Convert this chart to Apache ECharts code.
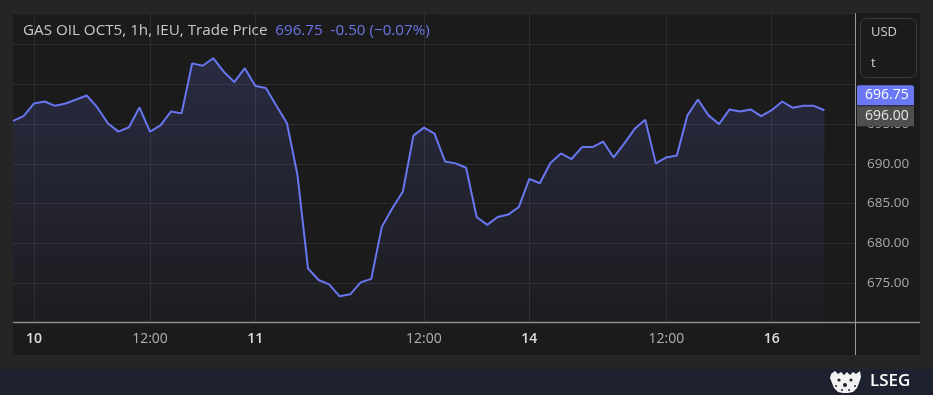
<!DOCTYPE html>
<html>
<head>
<meta charset="utf-8">
<script src="https://cdn.jsdelivr.net/npm/echarts@6/dist/echarts.min.js"></script>
<style>
html,body{margin:0;padding:0;background:#252525;}
#chart{width:933px;height:395px;}
</style>
</head>
<body>
<div id="chart"></div>
<script>
// ---- data ----
const instrument = 'GAS OIL OCT5, 1h, IEU, Trade Price';
const changeAbs = '-0.50';
const changePct = '(\u22120.07%)';
const refValue = 696.00;
const currency = 'USD';
const unit = 't';
const slotCount = 81;               // hourly slots on the axis
const tickIndex = [2, 13, 23, 39, 49, 62, 72];
const tickLabels = ['10', '12:00', '11', '12:00', '14', '12:00', '16'];
const yTicks = [675, 680, 685, 690, 695];
const price = [
  695.4, 696.0, 697.6, 697.85, 697.3, 697.6, 698.1, 698.6, 697.1, 695.1,
  694.05, 694.6, 697.1, 694.05, 694.85, 696.6, 696.35, 702.65, 702.35, 703.3,
  701.6, 700.3, 702.05, 699.8, 699.55, 697.3, 695.1, 688.55, 676.8, 675.35,
  674.8, 673.3, 673.55, 675.05, 675.5, 682.05, 684.4, 686.5, 693.55, 694.55,
  693.8, 690.3, 690.05, 689.5, 683.3, 682.3, 683.3, 683.6, 684.55, 688.1,
  687.55, 690.1, 691.3, 690.6, 692.1, 692.1, 692.8, 690.8, 692.55, 694.4,
  695.55, 690.05, 690.8, 691.05, 696.1, 698.1, 696.1, 695.0, 696.85, 696.6,
  696.85, 696.0, 696.75, 697.85, 697.05, 697.3, 697.3, 696.75
];

// ---- chart ----
const categories = Array.from({length: slotCount}, (_, i) => String(i));
const lastValue = price[price.length - 1];
const isTick = (i) => tickIndex.indexOf(i) >= 0;
const FONT = '"Open Sans", "Noto Sans", sans-serif';
const LINE = '#6876f0';

const chart = echarts.init(document.getElementById('chart'), null, {renderer: 'canvas'});

const option = {
  backgroundColor: '#252525',
  animation: false,
  textStyle: {fontFamily: FONT},
  grid: {left: 13, right: 77, top: 13, bottom: 72.5, containLabel: false},
  xAxis: {
    type: 'category',
    data: categories,
    boundaryGap: false,
    axisLine: {show: false},
    axisTick: {show: false},
    axisLabel: {
      interval: (i) => isTick(i),
      formatter: (v, i) => {
        const k = tickIndex.indexOf(i);
        if (k < 0) return '';
        const t = tickLabels[k];
        return t.indexOf(':') >= 0 ? '{t|' + t + '}' : '{d|' + t + '}';
      },
      margin: 10,
      rich: {
        d: {color: '#dcdcdc', fontSize: 14, fontWeight: 600, fontFamily: FONT},
        t: {color: '#b0b0b0', fontSize: 14, fontFamily: FONT}
      }
    },
    splitLine: {show: true, interval: (i) => isTick(i), lineStyle: {color: '#2d2d2d', width: 1}}
  },
  yAxis: {
    type: 'value',
    position: 'right',
    min: 670,
    max: 709,
    interval: 5,
    axisLine: {show: false},
    axisTick: {show: false},
    axisLabel: {
      margin: 11,
      color: '#a8a8a8',
      fontSize: 13.5,
      fontFamily: FONT,
      formatter: (v) => yTicks.indexOf(v) >= 0 ? v.toFixed(2) : ''
    },
    splitLine: {lineStyle: {color: '#2d2d2d', width: 1}}
  },
  series: [{
    type: 'line',
    data: price,
    showSymbol: false,
    symbol: 'none',
    lineStyle: {color: LINE, width: 2},
    itemStyle: {color: LINE},
    areaStyle: {
      color: new echarts.graphic.LinearGradient(0, 0, 0, 1, [
        {offset: 0, color: 'rgba(100,112,235,0.26)'},
        {offset: 1, color: 'rgba(100,112,235,0.03)'}
      ])
    },
    z: 3
  }]
};
chart.setOption(option);

// frame and overlay graphics
const pyRef = chart.convertToPixel({yAxisIndex: 0}, refValue);
const graphics = [
  {type: 'rect', z: -10, silent: true, shape: {x: 13, y: 13, width: 907, height: 342}, style: {fill: '#1b1b1b'}},
  {type: 'rect', z: -10, silent: true, shape: {x: 0, y: 369, width: 933, height: 26}, style: {fill: '#1e2230'}},
  {type: 'line', z: 50, silent: true, shape: {x1: 13, y1: 322.5, x2: 920, y2: 322.5}, style: {stroke: '#8c8c8c', lineWidth: 1.5}},
  {type: 'line', z: 50, silent: true, shape: {x1: 855.5, y1: 13, x2: 855.5, y2: 355}, style: {stroke: '#9a9a9a', lineWidth: 1}},
  {type: 'text', z: 60, left: 23, top: 23, style: {
    text: '{a|' + instrument + '}{b|  ' + lastValue.toFixed(2) + '  ' + changeAbs + ' ' + changePct + '}',
    rich: {
      a: {fill: '#c8c8c8', fontSize: 15.2, fontFamily: FONT},
      b: {fill: '#6d75e6', fontSize: 15.2, fontFamily: FONT}
    }
  }},
  {type: 'rect', z: 60, shape: {x: 860.5, y: 18.5, width: 56, height: 59, r: 6}, style: {fill: 'none', stroke: '#3a3a3a', lineWidth: 1}},
  {type: 'text', z: 61, x: 871, y: 32.5, style: {text: currency, fill: '#d0d0d0', fontSize: 13, fontFamily: FONT, textVerticalAlign: 'middle'}},
  {type: 'text', z: 61, x: 871, y: 63, style: {text: unit, fill: '#d0d0d0', fontSize: 13, fontFamily: FONT, textVerticalAlign: 'middle'}},
  // reference tag (grey) at its true level, last-price tag (blue) stacked above
  {type: 'rect', z: 70, shape: {x: 857, y: pyRef - 10, width: 57, height: 20}, style: {fill: '#4f4f4f'}},
  {type: 'text', z: 71, x: 865, y: pyRef, style: {text: refValue.toFixed(2), fill: '#e6e6e6', fontSize: 14, fontFamily: FONT, textVerticalAlign: 'middle'}},
  {type: 'rect', z: 70, shape: {x: 857, y: pyRef - 31, width: 57, height: 20, r: [2, 2, 0, 0]}, style: {fill: '#6b78f5'}},
  {type: 'text', z: 71, x: 865, y: pyRef - 21, style: {text: lastValue.toFixed(2), fill: '#ffffff', fontSize: 14, fontFamily: FONT, textVerticalAlign: 'middle'}},
  // LSEG logo
  {type: 'group', z: 80, x: 830, y: 371, children: [
    {type: 'polygon', shape: {points: [[1,3],[5,0],[8,3],[11,1],[14,4],[17,1],[20,4],[23,1],[26,3],[30,0],[31,6],[29,12],[27,17],[23,21],[18,22],[13,22],[8,21],[4,17],[2,12],[0,7]]}, style: {fill: '#f2f2f2'}},
    {type: 'circle', shape: {cx: 9, cy: 9, r: 1.6}, style: {fill: '#1e2230'}},
    {type: 'circle', shape: {cx: 21, cy: 9, r: 1.6}, style: {fill: '#1e2230'}},
    {type: 'circle', shape: {cx: 15, cy: 14, r: 2}, style: {fill: '#1e2230'}},
    {type: 'circle', shape: {cx: 6, cy: 15, r: 1}, style: {fill: '#1e2230'}},
    {type: 'circle', shape: {cx: 25, cy: 15, r: 1}, style: {fill: '#1e2230'}},
    {type: 'circle', shape: {cx: 12, cy: 19, r: 1}, style: {fill: '#1e2230'}},
    {type: 'circle', shape: {cx: 19, cy: 19, r: 1}, style: {fill: '#1e2230'}}
  ]},
  {type: 'text', z: 80, x: 870, y: 381.5, style: {text: 'LSEG', fill: '#ffffff', fontSize: 17, fontWeight: 600, fontFamily: '"Open Sans", sans-serif', textVerticalAlign: 'middle'}}
];
chart.setOption({graphic: graphics});
</script>
</body>
</html>
